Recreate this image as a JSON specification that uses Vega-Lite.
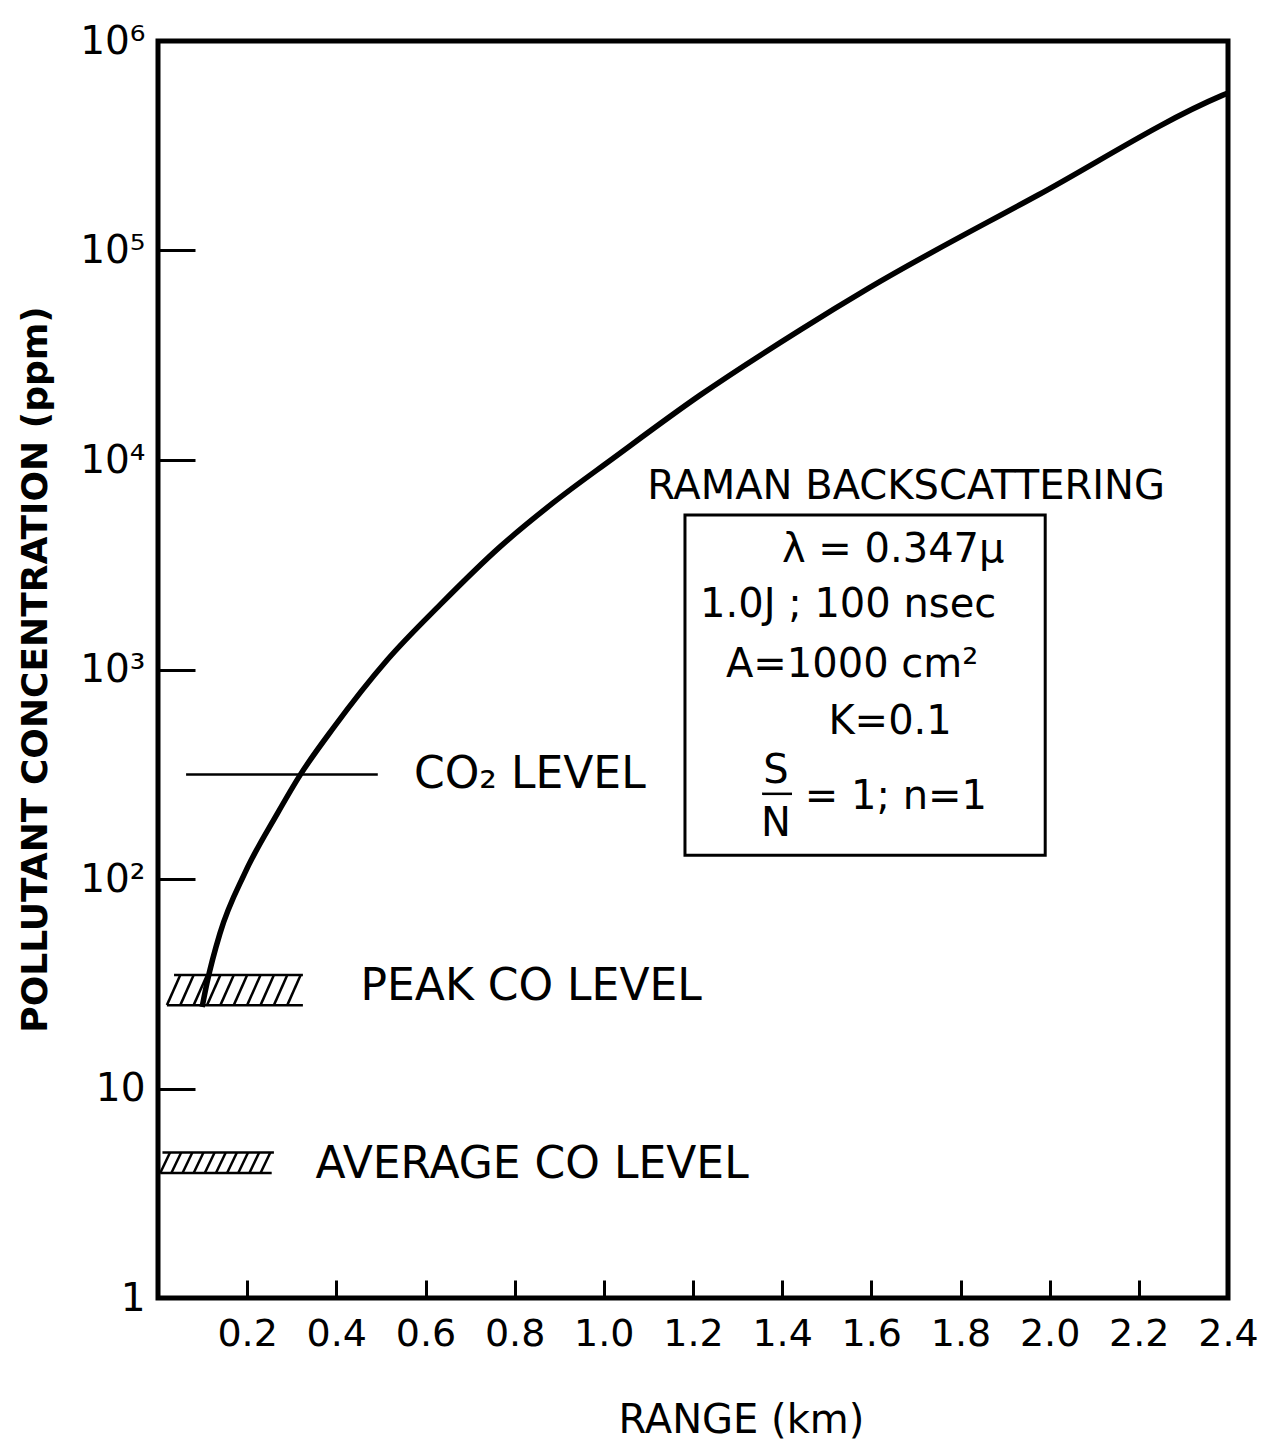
{
  "$schema": "https://vega.github.io/schema/vega-lite/v6.json",
  "width": 1070,
  "height": 1257,
  "autosize": {"type": "none"},
  "padding": {"left": 158, "top": 41, "right": 44, "bottom": 144},
  "background": "white",
  "config": {
    "view": {"stroke": "black", "strokeWidth": 5},
    "font": "DejaVu Sans"
  },
  "datasets": {
    "curve": [
      {"x": 0.099, "y": 24.5},
      {"x": 0.110, "y": 32},
      {"x": 0.139, "y": 55},
      {"x": 0.195, "y": 107},
      {"x": 0.267, "y": 204},
      {"x": 0.319, "y": 314},
      {"x": 0.393, "y": 525},
      {"x": 0.514, "y": 1110},
      {"x": 0.633, "y": 2040},
      {"x": 0.767, "y": 3850},
      {"x": 0.886, "y": 6240},
      {"x": 1.021, "y": 10200},
      {"x": 1.216, "y": 20400},
      {"x": 1.440, "y": 41700},
      {"x": 1.595, "y": 66300},
      {"x": 1.974, "y": 184000},
      {"x": 2.387, "y": 550000},
      {"x": 2.400, "y": 565000}
    ],
    "segments": [
      {"x": 0.063, "x2": 0.493, "y": 315, "y2": 315},
      {"x": 1.355, "x2": 1.422, "y": 255, "y2": 255},
      {"x": 0.036, "x2": 0.325, "y": 34.8, "y2": 34.8},
      {"x": 0.020, "x2": 0.325, "y": 25, "y2": 25},
      {"x": 0.020, "x2": 0.050, "y": 25, "y2": 34.8},
      {"x": 0.050, "x2": 0.080, "y": 25, "y2": 34.8},
      {"x": 0.080, "x2": 0.110, "y": 25, "y2": 34.8},
      {"x": 0.110, "x2": 0.140, "y": 25, "y2": 34.8},
      {"x": 0.140, "x2": 0.170, "y": 25, "y2": 34.8},
      {"x": 0.170, "x2": 0.200, "y": 25, "y2": 34.8},
      {"x": 0.200, "x2": 0.230, "y": 25, "y2": 34.8},
      {"x": 0.230, "x2": 0.260, "y": 25, "y2": 34.8},
      {"x": 0.260, "x2": 0.290, "y": 25, "y2": 34.8},
      {"x": 0.290, "x2": 0.320, "y": 25, "y2": 34.8},
      {"x": 0.010, "x2": 0.260, "y": 4.95, "y2": 4.95},
      {"x": 0.005, "x2": 0.255, "y": 3.95, "y2": 3.95},
      {"x": 0.005, "x2": 0.027, "y": 3.95, "y2": 4.95},
      {"x": 0.030, "x2": 0.052, "y": 3.95, "y2": 4.95},
      {"x": 0.055, "x2": 0.077, "y": 3.95, "y2": 4.95},
      {"x": 0.080, "x2": 0.102, "y": 3.95, "y2": 4.95},
      {"x": 0.105, "x2": 0.127, "y": 3.95, "y2": 4.95},
      {"x": 0.130, "x2": 0.152, "y": 3.95, "y2": 4.95},
      {"x": 0.155, "x2": 0.177, "y": 3.95, "y2": 4.95},
      {"x": 0.180, "x2": 0.202, "y": 3.95, "y2": 4.95},
      {"x": 0.205, "x2": 0.227, "y": 3.95, "y2": 4.95},
      {"x": 0.230, "x2": 0.252, "y": 3.95, "y2": 4.95}
    ],
    "box": [
      {"x": 1.182, "x2": 1.990, "y": 130, "y2": 5460}
    ],
    "levels": [
      {"x": 0.834, "y": 315, "text": "CO₂ LEVEL"},
      {"x": 0.837, "y": 30.5, "text": "PEAK CO LEVEL"},
      {"x": 0.839, "y": 4.31, "text": "AVERAGE CO LEVEL"}
    ],
    "notes": [
      {"x": 1.678, "y": 7430, "text": "RAMAN BACKSCATTERING"},
      {"x": 1.649, "y": 3718, "text": "λ = 0.347μ"},
      {"x": 1.548, "y": 2032, "text": "1.0J ; 100 nsec"},
      {"x": 1.557, "y": 1050, "text": "A=1000 cm²"},
      {"x": 1.642, "y": 561, "text": "K=0.1"},
      {"x": 1.386, "y": 326, "text": "S"},
      {"x": 1.386, "y": 183, "text": "N"},
      {"x": 1.655, "y": 246, "text": "= 1; n=1"}
    ]
  },
  "layer": [
    {
      "data": {"name": "curve"},
      "mark": {"type": "line", "interpolate": "monotone", "strokeWidth": 5.5, "color": "black"},
      "encoding": {
        "x": {
          "field": "x", "type": "quantitative",
          "scale": {"domain": [0, 2.4], "nice": false, "zero": false},
          "axis": {
            "values": [0.2, 0.4, 0.6, 0.8, 1.0, 1.2, 1.4, 1.6, 1.8, 2.0, 2.2, 2.4],
            "format": ".1f",
            "title": "RANGE (km)",
            "domain": false, "grid": false,
            "tickSize": -18, "tickWidth": 3, "tickColor": "black",
            "labelPadding": 35, "labelFontSize": 38, "labelColor": "black", "labelFont": "DejaVu Sans",
            "labelFlush": false, "labelOverlap": false,
            "titleFontSize": 40, "titleFontWeight": "normal", "titleColor": "black", "titleFont": "DejaVu Sans",
            "titleX": 583, "titleY": 122, "titleBaseline": "middle", "titleAlign": "center"
          }
        },
        "y": {
          "field": "y", "type": "quantitative",
          "scale": {"type": "log", "domain": [1, 1000000], "nice": false},
          "axis": {
            "values": [1, 10, 100, 1000, 10000, 100000, 1000000],
            "labelExpr": "datum.value >= 999999 ? '10⁶' : datum.value >= 99999 ? '10⁵' : datum.value >= 9999 ? '10⁴' : datum.value >= 999 ? '10³' : datum.value >= 99 ? '10²' : datum.value >= 9 ? '10' : '1'",
            "title": "POLLUTANT CONCENTRATION (ppm)",
            "domain": false, "grid": false,
            "tickSize": -37, "tickWidth": 3, "tickColor": "black",
            "labelPadding": 50, "labelFontSize": 39, "labelColor": "black", "labelFont": "DejaVu Sans",
            "labelFlush": false, "labelOverlap": false, "labelBaseline": "middle",
            "titleFontSize": 36, "titleFontWeight": "bold", "titleColor": "black", "titleFont": "DejaVu Sans",
            "titleX": -123, "titleY": 628, "titleBaseline": "middle", "titleAlign": "center", "titleAngle": -90
          }
        }
      }
    },
    {
      "data": {"name": "segments"},
      "mark": {"type": "rule", "strokeWidth": 2.5, "color": "black"},
      "encoding": {
        "x": {"field": "x", "type": "quantitative"},
        "x2": {"field": "x2"},
        "y": {"field": "y", "type": "quantitative"},
        "y2": {"field": "y2"}
      }
    },
    {
      "data": {"name": "box"},
      "mark": {"type": "rect", "fill": "transparent", "stroke": "black", "strokeWidth": 3},
      "encoding": {
        "x": {"field": "x", "type": "quantitative"},
        "x2": {"field": "x2"},
        "y": {"field": "y", "type": "quantitative"},
        "y2": {"field": "y2"}
      }
    },
    {
      "data": {"name": "levels"},
      "mark": {"type": "text", "fontSize": 44, "font": "DejaVu Sans", "color": "black", "align": "center", "baseline": "middle"},
      "encoding": {
        "x": {"field": "x", "type": "quantitative"},
        "y": {"field": "y", "type": "quantitative"},
        "text": {"field": "text"}
      }
    },
    {
      "data": {"name": "notes"},
      "mark": {"type": "text", "fontSize": 40, "font": "DejaVu Sans", "color": "black", "align": "center", "baseline": "middle"},
      "encoding": {
        "x": {"field": "x", "type": "quantitative"},
        "y": {"field": "y", "type": "quantitative"},
        "text": {"field": "text"}
      }
    }
  ]
}
